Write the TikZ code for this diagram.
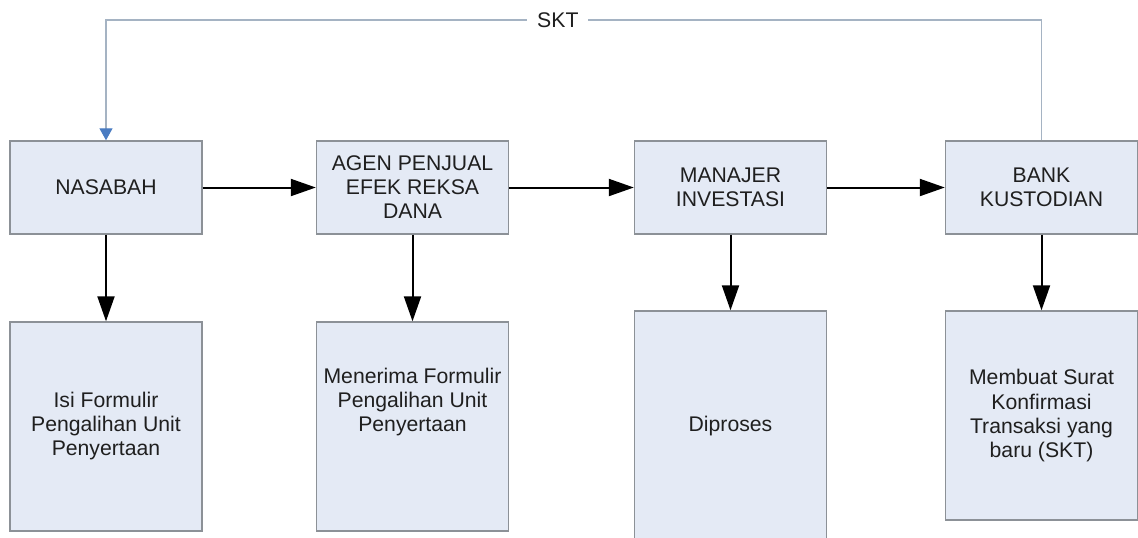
\documentclass[tikz,border=0pt]{standalone}
\usepackage{fontspec}
\setmainfont{Liberation Sans}
\usepackage{xcolor}
\usetikzlibrary{arrows.meta}

\definecolor{isiKotak}{HTML}{E4EAF5}
\definecolor{tepiKotak}{HTML}{8C9197}
\definecolor{warnaTeks}{HTML}{1F1F1F}
\definecolor{garisSKT}{HTML}{A5B3C3}
\definecolor{panahSKT}{HTML}{4A7CC2}

\tikzset{
  tulisan/.style={text=warnaTeks, align=center, font=\fontsize{10.6}{12}\selectfont},
  kotak/.style={tulisan, draw=tepiKotak, line width=0.7pt, fill=isiKotak, minimum width=96pt, inner sep=0pt},
  atas/.style={kotak, minimum height=46.5pt},
  bawah/.style={kotak, minimum height=104.5pt},
  alur/.style={-{Triangle[length=12.5pt,width=8.5pt]}, line width=1pt, black},
  balik/.style={-{Triangle[length=6pt,width=6.5pt,color=panahSKT]}, draw=garisSKT, line width=0.6pt}
}

\begin{document}
\begin{tikzpicture}[x=0.5pt,y=-0.5pt]
\useasboundingbox (0,0) rectangle (1138,537);
%baris atas
\node[atas] (nasabah) at (106,187.5) {NASABAH};
\node[atas] (agen) at (412.5,187.5) {AGEN PENJUAL\\EFEK REKSA\\DANA};
\node[atas] (manajer) at (730.5,187.5) {MANAJER\\INVESTASI};
\node[atas] (bank) at (1041.5,187.5) {BANK\\KUSTODIAN};
%baris bawah
\node[bawah] (isi) at (106,426.5) {Isi Formulir\\Pengalihan Unit\\Penyertaan};
\node[bawah] (terima) at (412.5,426.5) {};
\node[tulisan] (terimaTeks) at (412.5,402) {Menerima Formulir\\Pengalihan Unit\\Penyertaan};
\node[kotak, minimum height=115pt] (proses) at (730.5,426) {Diproses};
\node[bawah] (skt) at (1041.5,415.5) {Membuat Surat\\Konfirmasi\\Transaksi yang\\baru (SKT)};
%alur mendatar
\draw[alur] (nasabah) -- (agen);
\draw[alur] (agen) -- (manajer);
\draw[alur] (manajer) -- (bank);
%alur ke bawah
\draw[alur] (nasabah) -- (isi);
\draw[alur] (agen) -- (terima);
\draw[alur] (manajer) -- (proses);
\draw[alur] (bank) -- (skt);
%SKT kembali ke nasabah
\coordinate (sudutKanan) at (1041.5,20);
\coordinate (sudutKiri) at (106,20);
\draw[balik] (bank.north) -- (sudutKanan) -- node[pos=0.517, tulisan, fill=white, inner xsep=5pt] (labelSKT) {SKT} (sudutKiri) -- (nasabah.north);
\end{tikzpicture}
\end{document}
